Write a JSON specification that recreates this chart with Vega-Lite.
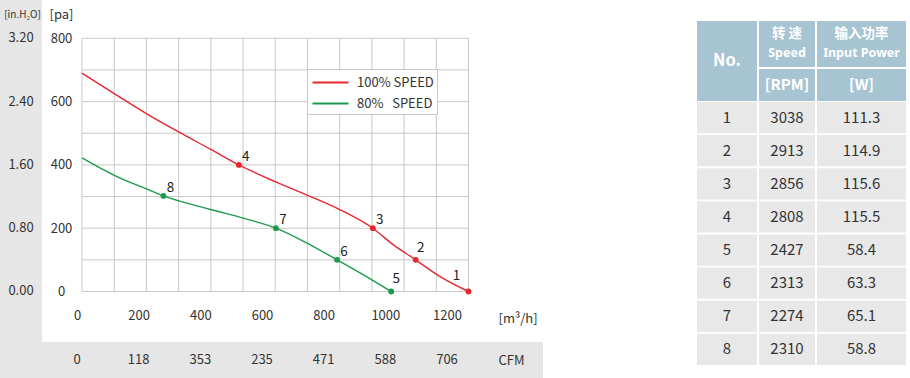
{
  "$schema": "https://vega.github.io/schema/vega-lite/v6.json",
  "background": "white",
  "padding": 0,
  "autosize": {"type": "pad"},
  "config": {
    "view": {"stroke": null},
    "font": "Noto Sans CJK SC",
    "concat": {"spacing": 0},
    "axis": {"minExtent": 0, "labelFont": "Noto Sans CJK SC", "titleFont": "Noto Sans CJK SC"},
    "legend": {"labelFont": "Noto Sans CJK SC"},
    "text": {"font": "Noto Sans CJK SC"}
  },
  "datasets": {
    "curves": [
      {"series": "100% SPEED", "q": 0, "p": 690},
      {"series": "100% SPEED", "q": 100, "p": 625},
      {"series": "100% SPEED", "q": 200, "p": 562},
      {"series": "100% SPEED", "q": 300, "p": 504},
      {"series": "100% SPEED", "q": 400, "p": 449},
      {"series": "100% SPEED", "q": 487, "p": 400, "no": 4},
      {"series": "100% SPEED", "q": 600, "p": 347},
      {"series": "100% SPEED", "q": 700, "p": 304},
      {"series": "100% SPEED", "q": 800, "p": 259},
      {"series": "100% SPEED", "q": 903, "p": 200, "no": 3},
      {"series": "100% SPEED", "q": 966, "p": 148},
      {"series": "100% SPEED", "q": 1036, "p": 100, "no": 2},
      {"series": "100% SPEED", "q": 1104, "p": 52},
      {"series": "100% SPEED", "q": 1200, "p": 0, "no": 1},
      {"series": "80% SPEED", "q": 0, "p": 422},
      {"series": "80% SPEED", "q": 100, "p": 367},
      {"series": "80% SPEED", "q": 200, "p": 324},
      {"series": "80% SPEED", "q": 253, "p": 302, "no": 8},
      {"series": "80% SPEED", "q": 400, "p": 259},
      {"series": "80% SPEED", "q": 500, "p": 232},
      {"series": "80% SPEED", "q": 602, "p": 200, "no": 7},
      {"series": "80% SPEED", "q": 700, "p": 152},
      {"series": "80% SPEED", "q": 792, "p": 100, "no": 6},
      {"series": "80% SPEED", "q": 900, "p": 37},
      {"series": "80% SPEED", "q": 960, "p": 0, "no": 5}
    ],
    "gridx": [{"g": 0}, {"g": 100}, {"g": 200}, {"g": 300}, {"g": 400}, {"g": 500}, {"g": 600}, {"g": 700}, {"g": 800}, {"g": 900}, {"g": 1000}, {"g": 1100}, {"g": 1200}],
    "gridy": [{"g": 0}, {"g": 100}, {"g": 200}, {"g": 300}, {"g": 400}, {"g": 500}, {"g": 600}, {"g": 700}, {"g": 800}],
    "cfm": [
      {"m3h": 0, "cfm": "0"},
      {"m3h": 200, "cfm": "118"},
      {"m3h": 400, "cfm": "353"},
      {"m3h": 600, "cfm": "235"},
      {"m3h": 800, "cfm": "471"},
      {"m3h": 1000, "cfm": "588"},
      {"m3h": 1200, "cfm": "706"}
    ],
    "h2o": [
      {"pa": 0, "inh2o": "0.00"},
      {"pa": 200, "inh2o": "0.80"},
      {"pa": 400, "inh2o": "1.60"},
      {"pa": 600, "inh2o": "2.40"},
      {"pa": 800, "inh2o": "3.20"}
    ],
    "table": [
      {"no": 1, "rpm": 3038, "w": 111.3},
      {"no": 2, "rpm": 2913, "w": 114.9},
      {"no": 3, "rpm": 2856, "w": 115.6},
      {"no": 4, "rpm": 2808, "w": 115.5},
      {"no": 5, "rpm": 2427, "w": 58.4},
      {"no": 6, "rpm": 2313, "w": 63.3},
      {"no": 7, "rpm": 2274, "w": 65.1},
      {"no": 8, "rpm": 2310, "w": 58.8}
    ]
  },
  "spacing": 154,
  "resolve": {"scale": {"x": "independent", "y": "independent"}},
  "hconcat": [
    {
      "spacing": 0,
      "resolve": {"scale": {"x": "independent", "y": "independent"}},
      "vconcat": [
        {
          "spacing": 0,
          "resolve": {"scale": {"x": "independent", "y": "independent"}},
          "hconcat": [
            {
              "width": 42,
              "height": 342,
              "view": {"fill": "#e6e6e6"},
              "data": {"name": "h2o"},
              "mark": {"type": "text", "fontSize": 13, "color": "#333333"},
              "encoding": {
                "y": {
                  "field": "pa", "type": "quantitative",
                  "scale": {"domain": [-159.56, 921.01], "nice": false, "zero": false},
                  "axis": {"orient": "left", "labels": false, "ticks": false, "domain": false, "grid": false,
                    "title": "[in.H₂O]", "titleAngle": 0, "titleX": 22, "titleY": 14, "titleAlign": "center",
                    "titleBaseline": "middle", "titleFontSize": 10, "titleFontWeight": "normal", "titleColor": "#333333"}
                },
                "text": {"field": "inh2o"}
              }
            },
            {
              "width": 501,
              "height": 342,
              "resolve": {"scale": {"x": "independent"}, "axis": {"x": "independent"}},
              "layer": [
                {
                  "resolve": {"axis": {"y": "independent"}},
                  "layer": [
                    {
                      "data": {"name": "gridx"},
                      "mark": {"type": "rule", "color": "#c8c8c8", "strokeWidth": 1},
                      "encoding": {
                        "x": {"field": "g", "type": "quantitative", "scale": {"domain": [-124.19, 1431.31], "nice": false, "zero": false}, "axis": null},
                        "y": {"datum": 0, "type": "quantitative", "scale": {"domain": [-159.56, 921.01], "nice": false, "zero": false}, "axis": null},
                        "y2": {"datum": 800}
                      }
                    },
                    {
                      "data": {"name": "gridy"},
                      "mark": {"type": "rule", "color": "#c8c8c8", "strokeWidth": 1},
                      "encoding": {
                        "y": {
                          "field": "g", "type": "quantitative",
                          "scale": {"domain": [-159.56, 921.01], "nice": false, "zero": false},
                          "axis": {"orient": "left", "offset": -40, "values": [0, 200, 400, 600, 800],
                            "domain": false, "ticks": false, "grid": false,
                            "labelAlign": "center", "labelBaseline": "middle", "labelPadding": 21,
                            "labelFontSize": 13, "labelColor": "#333333",
                            "title": "[pa]", "titleAngle": 0, "titleX": -21, "titleY": 14, "titleAlign": "center",
                            "titleBaseline": "middle", "titleFontSize": 13, "titleFontWeight": "normal", "titleColor": "#333333"}
                        },
                        "x": {"datum": 0, "type": "quantitative", "scale": {"domain": [-124.19, 1431.31], "nice": false, "zero": false}, "axis": null},
                        "x2": {"datum": 1200}
                      }
                    },
                    {
                      "data": {"name": "curves"},
                      "mark": {"type": "line", "interpolate": "monotone", "strokeWidth": 1.4},
                      "encoding": {
                        "x": {"field": "q", "type": "quantitative", "scale": {"domain": [-124.19, 1431.31], "nice": false, "zero": false}, "axis": null},
                        "y": {"field": "p", "type": "quantitative", "scale": {"domain": [-159.56, 921.01], "nice": false, "zero": false}, "axis": null},
                        "color": {
                          "field": "series", "type": "nominal",
                          "scale": {"domain": ["100% SPEED", "80% SPEED"], "range": ["#e8262d", "#1c9b4c"]},
                          "legend": {
                            "orient": "none", "legendX": 307, "legendY": 69, "title": null,
                            "fillColor": "white", "strokeColor": "#c8c8c8", "padding": 3,
                            "symbolType": "M-2,0H2", "symbolSize": 324, "symbolStrokeWidth": 2.2, "symbolOffset": 10,
                            "symbolFillColor": "transparent",
                            "labelFontSize": 13, "labelColor": "#333333", "labelOffset": 16, "rowPadding": 3,
                            "labelExpr": "datum.label == '80% SPEED' ? '80%\u00a0\u00a0\u00a0SPEED' : datum.label"
                          }
                        }
                      }
                    },
                    {
                      "data": {"name": "curves"},
                      "transform": [{"filter": "isValid(datum.no)"}],
                      "mark": {"type": "circle", "size": 34, "opacity": 1},
                      "encoding": {
                        "x": {"field": "q", "type": "quantitative", "scale": {"domain": [-124.19, 1431.31], "nice": false, "zero": false}, "axis": null},
                        "y": {"field": "p", "type": "quantitative", "scale": {"domain": [-159.56, 921.01], "nice": false, "zero": false}, "axis": null},
                        "color": {"field": "series", "type": "nominal", "legend": null}
                      }
                    },
                    {
                      "data": {"name": "curves"},
                      "transform": [{"filter": "indexof([3, 4, 6, 7, 8], datum.no) >= 0"}],
                      "mark": {"type": "text", "dx": 7, "dy": -8, "fontSize": 13.5, "color": "#222222", "align": "center", "baseline": "middle"},
                      "encoding": {
                        "x": {"field": "q", "type": "quantitative", "scale": {"domain": [-124.19, 1431.31], "nice": false, "zero": false}, "axis": null},
                        "y": {"field": "p", "type": "quantitative", "scale": {"domain": [-159.56, 921.01], "nice": false, "zero": false}, "axis": null},
                        "text": {"field": "no"}
                      }
                    },
                    {
                      "data": {"name": "curves"},
                      "transform": [{"filter": "indexof([2, 5], datum.no) >= 0"}],
                      "mark": {"type": "text", "dx": 5, "dy": -12, "fontSize": 13.5, "color": "#222222", "align": "center", "baseline": "middle"},
                      "encoding": {
                        "x": {"field": "q", "type": "quantitative", "scale": {"domain": [-124.19, 1431.31], "nice": false, "zero": false}, "axis": null},
                        "y": {"field": "p", "type": "quantitative", "scale": {"domain": [-159.56, 921.01], "nice": false, "zero": false}, "axis": null},
                        "text": {"field": "no"}
                      }
                    },
                    {
                      "data": {"name": "curves"},
                      "transform": [{"filter": "datum.no == 1"}],
                      "mark": {"type": "text", "dx": -12, "dy": -15, "fontSize": 13.5, "color": "#222222", "align": "center", "baseline": "middle"},
                      "encoding": {
                        "x": {"field": "q", "type": "quantitative", "scale": {"domain": [-124.19, 1431.31], "nice": false, "zero": false}, "axis": null},
                        "y": {"field": "p", "type": "quantitative", "scale": {"domain": [-159.56, 921.01], "nice": false, "zero": false}, "axis": null},
                        "text": {"field": "no"}
                      }
                    }
                  ]
                },
                {
                  "data": {"name": "cfm"},
                  "mark": {"type": "rule", "opacity": 0},
                  "encoding": {
                    "x": {
                      "field": "m3h", "type": "quantitative",
                      "scale": {"domain": [-113.51, 1511.35], "nice": false, "zero": false},
                      "axis": {"orient": "bottom", "offset": -51, "values": [0, 200, 400, 600, 800, 1000, 1200], "format": "d",
                        "domain": false, "ticks": false, "grid": false, "labelFlush": false, "labelOverlap": false,
                        "labelBaseline": "middle", "labelPadding": 24, "labelFontSize": 13, "labelColor": "#333333",
                        "title": "[m³/h]", "titleX": 456, "titleY": 27, "titleAlign": "left", "titleBaseline": "middle",
                        "titleFontSize": 13, "titleFontWeight": "normal", "titleColor": "#333333"}
                    }
                  }
                }
              ]
            }
          ]
        },
        {
          "width": 543,
          "height": 36,
          "view": {"fill": "#e6e6e6"},
          "data": {"name": "cfm"},
          "mark": {"type": "text", "fontSize": 13, "color": "#333333"},
          "encoding": {
            "x": {
              "field": "m3h", "type": "quantitative",
              "scale": {"domain": [-249.73, 1511.35], "nice": false, "zero": false},
              "axis": {"orient": "top", "labels": false, "ticks": false, "domain": false, "grid": false,
                "title": "CFM", "titleX": 498, "titleY": 18, "titleAlign": "left", "titleBaseline": "middle",
                "titleFontSize": 13, "titleFontWeight": "normal", "titleColor": "#333333"}
            },
            "text": {"field": "cfm"}
          }
        }
      ]
    },
    {
      "spacing": 1,
      "resolve": {"scale": {"x": "independent", "y": "independent"}},
      "vconcat": [
        {
          "spacing": 2,
          "resolve": {"scale": {"x": "independent", "y": "independent"}},
          "hconcat": [
            {
              "width": 60,
              "height": 101,
              "data": {"values": [{"h": "No."}]},
              "layer": [
                {"mark": {"type": "rect", "color": "#a7c4d2"},
                 "encoding": {"y": {"field": "h", "type": "nominal", "scale": {"paddingInner": 0, "paddingOuter": 0.13125, "align": 1}, "axis": null}}},
                {"mark": {"type": "text", "fontSize": 16.5, "fontWeight": "bold", "color": "white"},
                 "encoding": {"y": {"field": "h", "type": "nominal", "axis": null}, "text": {"field": "h"}}}
              ]
            },
            {
              "spacing": 2,
              "resolve": {"scale": {"x": "independent", "y": "independent"}},
              "vconcat": [
                {
                  "width": 56,
                  "height": 67,
                  "data": {"values": [{"h": "speed", "cn": "转 速", "en": "Speed"}]},
                  "layer": [
                    {"mark": {"type": "rect", "color": "#a7c4d2"},
                     "encoding": {"y": {"field": "h", "type": "nominal", "scale": {"paddingInner": 0, "paddingOuter": 0.22826, "align": 1}, "axis": null}}},
                    {"mark": {"type": "text", "fontSize": 13.5, "fontWeight": "bold", "color": "white", "dy": -9.5},
                     "encoding": {"y": {"field": "h", "type": "nominal", "axis": null}, "text": {"field": "cn"}}},
                    {"mark": {"type": "text", "font": "Noto Sans", "fontSize": 12.5, "fontWeight": "bold", "color": "white", "dy": 9},
                     "encoding": {"y": {"field": "h", "type": "nominal", "axis": null}, "text": {"field": "en"}}}
                  ]
                },
                {
                  "width": 56,
                  "height": 32,
                  "data": {"values": [{"h": "[RPM]"}]},
                  "layer": [
                    {"mark": {"type": "rect", "color": "#a7c4d2"},
                     "encoding": {"y": {"field": "h", "type": "nominal", "scale": {"paddingInner": 0, "paddingOuter": 0}, "axis": null}}},
                    {"mark": {"type": "text", "fontSize": 15, "fontWeight": "bold", "color": "white"},
                     "encoding": {"y": {"field": "h", "type": "nominal", "axis": null}, "text": {"field": "h"}}}
                  ]
                }
              ]
            },
            {
              "spacing": 2,
              "resolve": {"scale": {"x": "independent", "y": "independent"}},
              "vconcat": [
                {
                  "width": 89,
                  "height": 67,
                  "data": {"values": [{"h": "power", "cn": "输入功率", "en": "Input Power"}]},
                  "layer": [
                    {"mark": {"type": "rect", "color": "#a7c4d2"},
                     "encoding": {"y": {"field": "h", "type": "nominal", "scale": {"paddingInner": 0, "paddingOuter": 0.22826, "align": 1}, "axis": null}}},
                    {"mark": {"type": "text", "fontSize": 13.5, "fontWeight": "bold", "color": "white", "dy": -9.5},
                     "encoding": {"y": {"field": "h", "type": "nominal", "axis": null}, "text": {"field": "cn"}}},
                    {"mark": {"type": "text", "font": "Noto Sans", "fontSize": 12.5, "fontWeight": "bold", "color": "white", "dy": 9},
                     "encoding": {"y": {"field": "h", "type": "nominal", "axis": null}, "text": {"field": "en"}}}
                  ]
                },
                {
                  "width": 89,
                  "height": 32,
                  "data": {"values": [{"h": "[W]"}]},
                  "layer": [
                    {"mark": {"type": "rect", "color": "#a7c4d2"},
                     "encoding": {"y": {"field": "h", "type": "nominal", "scale": {"paddingInner": 0, "paddingOuter": 0}, "axis": null}}},
                    {"mark": {"type": "text", "fontSize": 15, "fontWeight": "bold", "color": "white"},
                     "encoding": {"y": {"field": "h", "type": "nominal", "axis": null}, "text": {"field": "h"}}}
                  ]
                }
              ]
            }
          ]
        },
        {
          "spacing": 2,
          "resolve": {"scale": {"x": "independent", "y": "independent"}},
          "hconcat": [
            {
              "width": 60,
              "height": 263,
              "data": {"name": "table"},
              "layer": [
                {"mark": {"type": "rect", "color": "#e8e8e8"},
                 "encoding": {"y": {"field": "no", "type": "ordinal", "scale": {"paddingInner": 0.06, "paddingOuter": 0}, "axis": null}}},
                {"mark": {"type": "text", "fontSize": 15, "color": "#333333"},
                 "encoding": {"y": {"field": "no", "type": "ordinal", "axis": null}, "text": {"field": "no"}}}
              ]
            },
            {
              "width": 56,
              "height": 263,
              "data": {"name": "table"},
              "layer": [
                {"mark": {"type": "rect", "color": "#e8e8e8"},
                 "encoding": {"y": {"field": "no", "type": "ordinal", "scale": {"paddingInner": 0.06, "paddingOuter": 0}, "axis": null}}},
                {"mark": {"type": "text", "fontSize": 15, "color": "#333333"},
                 "encoding": {"y": {"field": "no", "type": "ordinal", "axis": null}, "text": {"field": "rpm"}}}
              ]
            },
            {
              "width": 89,
              "height": 263,
              "data": {"name": "table"},
              "layer": [
                {"mark": {"type": "rect", "color": "#e8e8e8"},
                 "encoding": {"y": {"field": "no", "type": "ordinal", "scale": {"paddingInner": 0.06, "paddingOuter": 0}, "axis": null}}},
                {"mark": {"type": "text", "fontSize": 15, "color": "#333333"},
                 "encoding": {"y": {"field": "no", "type": "ordinal", "axis": null}, "text": {"field": "w", "format": ".1f"}}}
              ]
            }
          ]
        }
      ]
    }
  ]
}
